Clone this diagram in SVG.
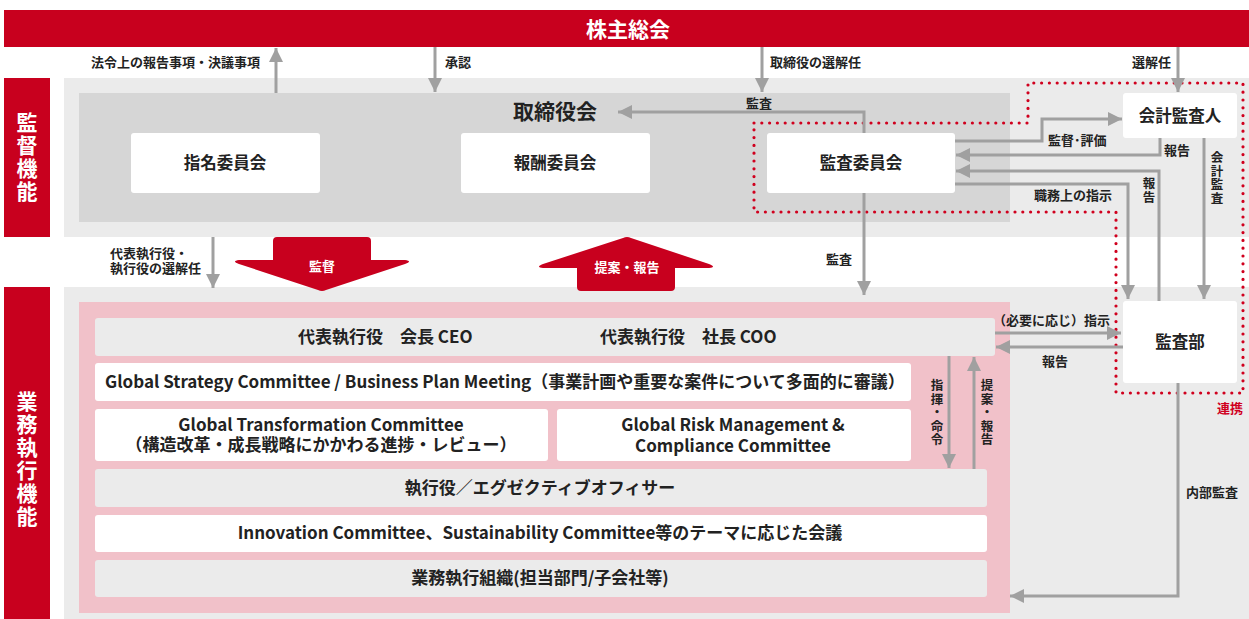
<svg xmlns="http://www.w3.org/2000/svg" width="1249" height="619" viewBox="0 0 1249 619">
<style>
text{font-family:"Noto Sans CJK JP","Noto Sans",sans-serif;font-weight:bold;fill:#222}
.w{fill:#fff}
.lbl{font-size:13px}
.box{font-size:16.5px}
.row{font-size:17px}
.c{text-anchor:middle}
.v{writing-mode:vertical-rl;font-size:12.5px;letter-spacing:1px}
.ln{fill:none;stroke:#A0A0A0;stroke-width:3}
.ar{marker-end:url(#ah)}
</style>
<defs>
<marker id="ah" markerUnits="userSpaceOnUse" markerWidth="15" markerHeight="14" refX="14" refY="7" orient="auto">
<path d="M0,0 L14,7 L0,14 z" fill="#A0A0A0"/>
</marker>
</defs>

<!-- backgrounds -->
<g id="bg">
<rect x="64" y="78" width="1185" height="159" fill="#EBEBEB"/>
<rect x="64" y="287" width="1185" height="332" fill="#EBEBEB"/>
<rect x="79" y="93" width="931" height="129" fill="#D6D6D6"/>
<rect x="79" y="302" width="931" height="311" fill="#F1C1C9"/>
</g>

<g id="shareholders">
<rect x="4" y="10" width="1245" height="37" fill="#C8001E"/>
<text class="w c" x="628" y="37" font-size="21">株主総会</text>
</g>

<g id="label-kantoku">
<rect x="4" y="78" width="46" height="159" fill="#C8001E"/>
<text class="w" style="writing-mode:vertical-rl;letter-spacing:2px" font-size="21" x="27" y="112">監督機能</text>
</g>

<g id="label-gyomu">
<rect x="4" y="287" width="46" height="332" fill="#C8001E"/>
<text class="w" style="writing-mode:vertical-rl;letter-spacing:2px" font-size="21" x="27" y="391">業務執行機能</text>
</g>

<g id="board">
<text class="c" x="555" y="119" font-size="21">取締役会</text>
</g>

<g id="nominating">
<rect x="131" y="133" width="189" height="60" rx="3" fill="#fff"/>
<text class="box c" x="225" y="169">指名委員会</text>
</g>
<g id="compensation">
<rect x="461" y="133" width="189" height="60" rx="3" fill="#fff"/>
<text class="box c" x="555" y="169">報酬委員会</text>
</g>
<g id="audit-committee">
<rect x="767" y="133" width="188" height="60" rx="3" fill="#fff"/>
<text class="box c" x="861" y="169">監査委員会</text>
</g>

<g id="accounting-auditor">
<rect x="1123" y="93" width="114" height="45" rx="3" fill="#fff"/>
<text class="box c" x="1180" y="122">会計監査人</text>
</g>

<g id="internal-audit">
<rect x="1123" y="301" width="114" height="82" rx="3" fill="#fff"/>
<text class="box c" x="1180" y="348">監査部</text>
</g>

<g id="collaboration">
<path d="M754,123 H1028 V83 H1243 V393 H1116 V212 H754 Z" fill="none" stroke="#D0001E" stroke-width="3.2" stroke-linecap="round" stroke-dasharray="0 7.8"/>
<text x="1230" y="413" font-size="13" style="fill:#D0001E" class="c">連携</text>
</g>

<g id="exec-rows">
<rect x="95" y="318" width="900" height="38" rx="3" fill="#EBEBEB"/>
<text class="row" x="298" y="343">代表執行役　会長 CEO</text>
<text class="row" x="600" y="343">代表執行役　社長 COO</text>
<rect x="95" y="363" width="816" height="38" rx="3" fill="#fff"/>
<text class="row" x="105" y="388">Global Strategy Committee / Business Plan Meeting（事業計画や重要な案件について多面的に審議）</text>
<rect x="95" y="409" width="453" height="52" rx="3" fill="#fff"/>
<text class="row c" x="321" y="431">Global Transformation Committee<tspan x="321" dy="20">（構造改革・成長戦略にかかわる進捗・レビュー）</tspan></text>
<rect x="557" y="409" width="354" height="52" rx="3" fill="#fff"/>
<text class="row c" x="733" y="431">Global Risk Management &amp;<tspan x="733" dy="21">Compliance Committee</tspan></text>
<rect x="95" y="469" width="892" height="38" rx="3" fill="#EBEBEB"/>
<text class="row c" x="540" y="494">執行役／エグゼクティブオフィサー</text>
<rect x="95" y="515" width="892" height="37" rx="3" fill="#fff"/>
<text class="row c" x="540" y="539">Innovation Committee、Sustainability Committee等のテーマに応じた会議</text>
<rect x="95" y="560" width="892" height="37" rx="3" fill="#EBEBEB"/>
<text class="row c" x="540" y="584">業務執行組織(担当部門/子会社等)</text>
</g>

<g id="big-arrows">
<path d="M277,237 H367 Q371,237 371,241 V260 H405 Q413,261 405,264 L326,290 Q322,292 318,290 L239,264 Q231,261 239,260 H273 V241 Q273,237 277,237 Z" fill="#C8001E"/>
<text class="w c" x="322" y="271" font-size="13">監督</text>
<path d="M581,291 H671 Q675,291 675,287 V268 H709 Q717,267 709,264 L631,238 Q627,236 623,238 L543,264 Q535,267 543,268 H577 V287 Q577,291 581,291 Z" fill="#C8001E"/>
<text class="w c" x="627" y="272" font-size="13">提案・報告</text>
</g>

<g id="connectors">
<path class="ln ar" d="M276,93 V48"/>
<path class="ln ar" d="M435,47 V92"/>
<path class="ln ar" d="M762,47 V92"/>
<path class="ln ar" d="M1178,47 V92"/>
<path class="ln ar" d="M864,133 V112 H618"/>
<path class="ln ar" d="M864,193 V295"/>
<path class="ln ar" d="M955,141 H1042 V119 H1122"/>
<path class="ln ar" d="M1160,138 V155 H956"/>
<path class="ln ar" d="M1159,301 V171 H956"/>
<path class="ln ar" d="M955,184 H1128 V299"/>
<path class="ln ar" d="M1204,138 V299"/>
<path class="ln ar" d="M213,237 V288"/>
<path class="ln ar" d="M995,333 H1121"/>
<path class="ln ar" d="M1123,347 H996"/>
<path class="ln ar" d="M1178,383 V596 H1010"/>
<path class="ln ar" d="M949,356 V468"/>
<path class="ln ar" d="M974,469 V357"/>
</g>

<g id="connector-labels">
<text class="lbl" x="91" y="67">法令上の報告事項・決議事項</text>
<text class="lbl" x="445" y="67">承認</text>
<text class="lbl" x="770" y="67">取締役の選解任</text>
<text class="lbl" x="1132" y="67">選解任</text>
<text class="lbl" x="746" y="108">監査</text>
<text class="lbl" x="1048" y="145">監督･評価</text>
<text class="lbl" x="1164" y="155">報告</text>
<text class="v" x="1149" y="177">報告</text>
<text class="lbl" x="1034" y="200">職務上の指示</text>
<text class="v" x="1217" y="151">会計監査</text>
<text class="lbl" x="110" y="258">代表執行役・<tspan x="110" dy="15">執行役の選解任</tspan></text>
<text class="lbl" x="826" y="264">監査</text>
<text class="lbl" x="993" y="325">（必要に応じ）指示</text>
<text class="lbl" x="1042" y="366">報告</text>
<text class="lbl" x="1186" y="497">内部監査</text>
<text class="v" x="937" y="379">指揮・命令</text>
<text class="v" x="987" y="379">提案・報告</text>
</g>
</svg>
